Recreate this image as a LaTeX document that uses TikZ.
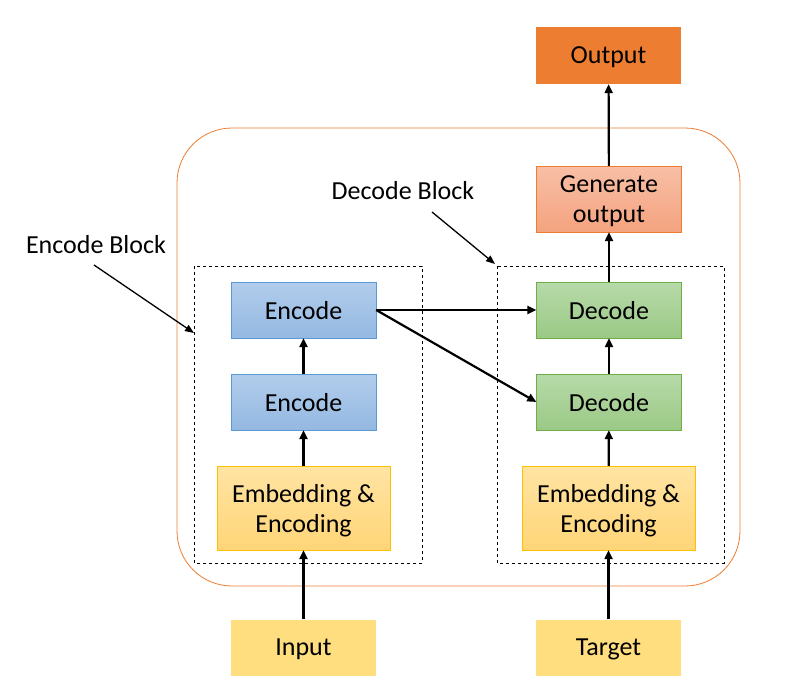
\documentclass[tikz,border=0pt]{standalone}
\usepackage{fontspec}
\setmainfont{Carlito}
\usepackage{xcolor}
\usetikzlibrary{arrows.meta}

\definecolor{enctop}{HTML}{B2CDEB}
\definecolor{encbot}{HTML}{94B8E2}
\definecolor{encdraw}{HTML}{5B9BD5}
\definecolor{dectop}{HTML}{B7DAA9}
\definecolor{decbot}{HTML}{9BC985}
\definecolor{decdraw}{HTML}{70AD47}
\definecolor{embtop}{HTML}{FFE4A3}
\definecolor{embbot}{HTML}{FFD577}
\definecolor{embdraw}{HTML}{FFC000}
\definecolor{gentop}{HTML}{F8BFA6}
\definecolor{genbot}{HTML}{F4A37F}
\definecolor{outfill}{HTML}{ED7D31}
\definecolor{infill}{HTML}{FFDE80}

\begin{document}
\begin{tikzpicture}[x=1pt, y=-1pt,
    nodes={font=\fontsize{26}{30}\selectfont, align=center, inner sep=0pt, text depth=0pt},
    box/.style={minimum width=145pt, minimum height=56pt},
    encbox/.style={box, draw=encdraw, top color=enctop, bottom color=encbot},
    decbox/.style={box, draw=decdraw, top color=dectop, bottom color=decbot},
    embbox/.style={minimum width=173pt, minimum height=84pt, draw=embdraw, top color=embtop, bottom color=embbot},
    genbox/.style={box, minimum height=66pt, draw=outfill, top color=gentop, bottom color=genbot},
    flow/.style={line width=2.2pt, -{Triangle[length=9pt, width=8pt]}},
    pointer/.style={line width=1.3pt, -{Triangle[length=9pt, width=7pt]}},
    blockline/.style={dashed, line width=0.8pt}]

    \useasboundingbox (0,0) rectangle (787,699);

    % outer frame and the two blocks
    \draw[outfill, line width=0.8pt, rounded corners=55pt] (177,128) rectangle (740,586);
    \draw[blockline] (194,266) rectangle (422,563);
    \draw[blockline] (497,266) rectangle (724,563);

    % encoder side
    \node[box, fill=infill] (input) at (303.5,647.5) {Input};
    \node[embbox] (embleft) at (303.5,508) {Embedding \&\\Encoding};
    \node[encbox] (enclow) at (303.5,402) {Encode};
    \node[encbox] (enchigh) at (303.5,310) {Encode};

    % decoder side
    \node[box, fill=infill] (target) at (608.5,647.5) {Target};
    \node[embbox] (embright) at (608.5,508) {Embedding \&\\Encoding};
    \node[decbox] (declow) at (609,402) {Decode};
    \node[decbox] (dechigh) at (609,310) {Decode};
    \node[genbox] (generate) at (609,199) {Generate\\output};
    \node[box, minimum height=57pt, fill=outfill] (output) at (608.5,55.5) {Output};

    % labels
    \node (enclabel) at (96,244) {Encode Block};
    \node (declabel) at (403,190) {Decode Block};
    \coordinate (encblockpt) at (194,333);
    \coordinate (decblockpt) at (495,264);

    \draw[flow] (input) -- (embleft);
    \draw[flow] (embleft) -- (enclow);
    \draw[flow] (enclow) -- (enchigh);
    \draw[flow] (target) -- (embright);
    \draw[flow] (embright) -- (declow);
    \draw[flow] (declow) -- (dechigh);
    \draw[flow] (dechigh) -- (generate);
    \draw[flow] (generate) -- (output);
    \draw[flow] (enchigh.east) -- (dechigh.west);
    \draw[flow] (enchigh.east) -- (declow.west);

    \draw[pointer] (94,265) -- (encblockpt);
    \draw[pointer] (432,212) -- (decblockpt);
\end{tikzpicture}
\end{document}
